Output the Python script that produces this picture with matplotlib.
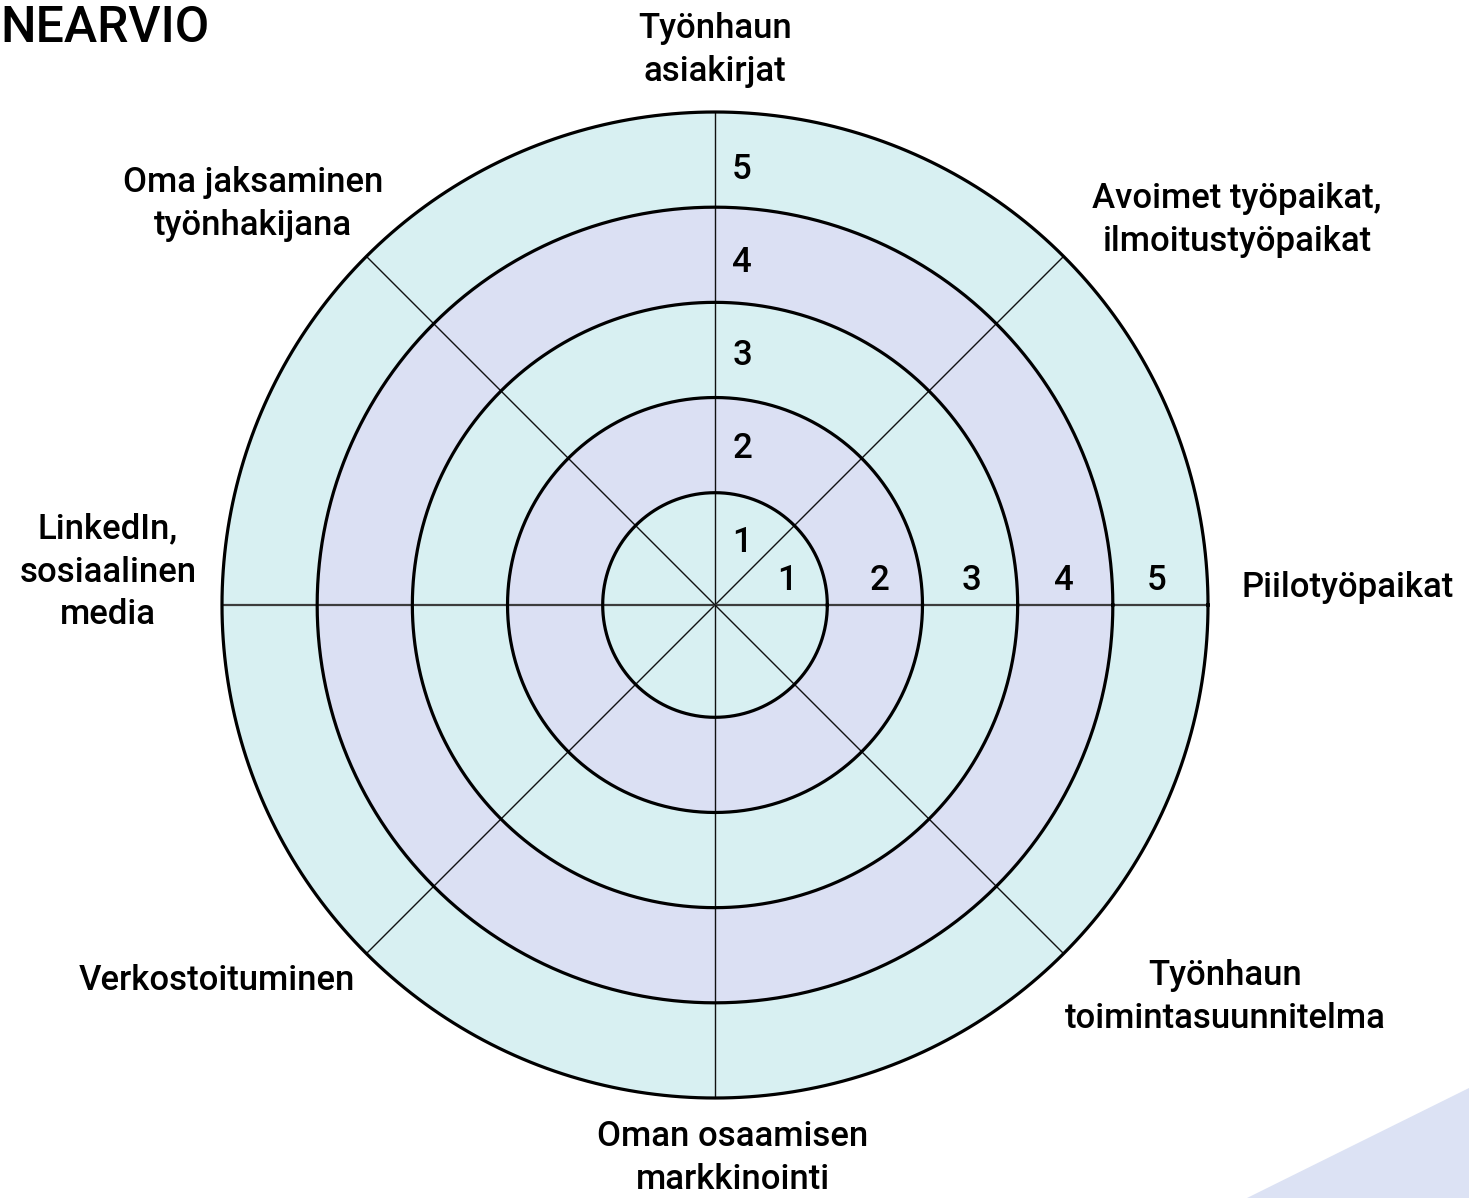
import numpy as np
import matplotlib
matplotlib.use("Agg")
import matplotlib.pyplot as plt
import matplotlib.transforms as mtrans
from matplotlib.patches import Polygon

W, H = 1469, 1198
DPI = 100

# ---- data ----
levels = [1, 2, 3, 4, 5]
level_labels = ["1", "2", "3", "4", "5"]
categories = [
    "Työnhaun\nasiakirjat",
    "Avoimet työpaikat,\nilmoitustyöpaikat",
    "Piilotyöpaikat",
    "Työnhaun\ntoimintasuunnitelma",
    "Oman osaamisen\nmarkkinointi",
    "Verkostoituminen",
    "LinkedIn,\nsosiaalinen\nmedia",
    "Oma jaksaminen\ntyönhakijana",
]
spoke_angles_deg = [90, 45, 0, -45, -90, -135, 180, 135]
title_text = "NEARVIO"

# ---- style ----
CYAN = "#d8f0f2"
LAV = "#dbe0f3"
band_colors = [CYAN, LAV, CYAN, LAV, CYAN]
FONT = ["Roboto", "DejaVu Sans"]
plt.rcParams["font.family"] = FONT

fig = plt.figure(figsize=(W / DPI, H / DPI), dpi=DPI)
fig.patch.set_facecolor("white")

cx, cy, R = 715, 605, 493
ax = fig.add_axes([(cx - R) / W, (H - cy - R) / H, 2 * R / W, 2 * R / H],
                  projection="polar")
rmin = -0.18
ax.set_ylim(rmin, 5)
ax.set_facecolor("none")
ax.grid(False)
ax.set_xticks([])
ax.set_yticks([])
ax.spines["polar"].set_visible(False)

theta = np.linspace(0, 2 * np.pi, 721)
prev = rmin
for lv, col in zip(levels, band_colors):
    ax.fill_between(theta, prev, lv, color=col, lw=0, zorder=1)
    prev = lv

# spokes
for a in spoke_angles_deg:
    t = np.deg2rad(a)
    if a in (0, 180):
        ax.plot([t, t], [rmin, 5], color="#3c3c3c", lw=1.6, zorder=2, solid_capstyle="butt")
    else:
        ax.plot([t, t], [rmin, 5], color="#111111", lw=1.0, zorder=2, solid_capstyle="butt")

# rings
for lv in levels:
    ax.plot(theta, np.full_like(theta, lv), color="black", lw=2.3, zorder=3, clip_on=False)

# level labels on vertical spoke (right of it) and horizontal spoke (above it)
off_right = mtrans.offset_copy(ax.transData, fig=fig, x=27, y=0, units="dots")
off_up = mtrans.offset_copy(ax.transData, fig=fig, x=0, y=24, units="dots")
for lv, lab in zip(levels, level_labels):
    ax.text(np.pi / 2, lv - 0.6 + 0.02 * (5 - lv) * 1.0, lab, transform=off_right,
            ha="center", va="center", fontsize=25, fontweight="medium", zorder=4)
    ax.text(0, lv - 0.42 - 0.03 * (lv - 1), lab, transform=off_up, ha="center", va="center",
            fontsize=25, fontweight="medium", zorder=4)

# category labels (pixel layout)
label_pos = [
    (715, 50), (1237, 220), (1348, 588), (1225, 997),
    (733, 1158), (217, 980), (108, 572), (253, 204),
]
for txt, (px, py) in zip(categories, label_pos):
    fig.text(px / W, 1 - py / H, txt, ha="center", va="center", fontsize=25,
             fontweight="medium", linespacing=1.38)

# title fragment
fig.text(0 / W, 1 - 28 / H, title_text, ha="left", va="center", fontsize=36,
         fontweight="medium")

# decorative triangle bottom-right
tri = Polygon([[1247 / W, 0], [1, 1 - 1088 / H], [1, 0]], closed=True,
              transform=fig.transFigure, facecolor="#dce2f4", edgecolor="none", zorder=0)
fig.patches.append(tri)

fig.savefig("out.png", dpi=DPI, facecolor="white")
